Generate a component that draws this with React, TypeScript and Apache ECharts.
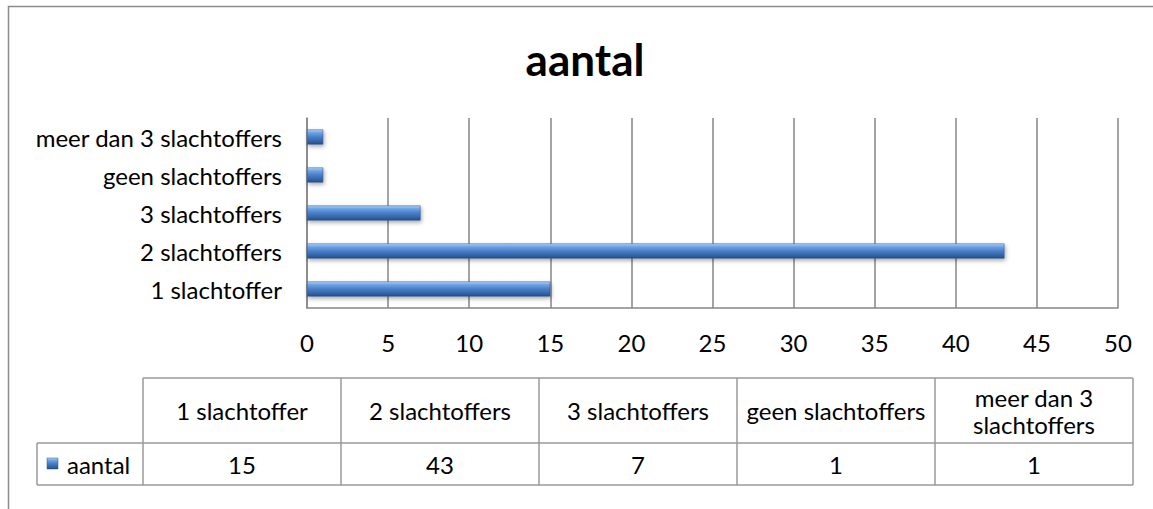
import React, { useEffect, useRef } from "react";
import * as echarts from "echarts";

const categories = ["1 slachtoffer", "2 slachtoffers", "3 slachtoffers", "geen slachtoffers", "meer dan 3 slachtoffers"];
const tableHeaders = ["1 slachtoffer", "2 slachtoffers", "3 slachtoffers", "geen slachtoffers", "meer dan 3\nslachtoffers"];
const values = [15, 43, 7, 1, 1];
const seriesName = "aantal";
const chartTitle = "aantal";

const FONT = "Lato, 'Open Sans', sans-serif";
const FS = 24;
const barGradient = () =>
  new echarts.graphic.LinearGradient(0, 0, 0, 1, [
    { offset: 0, color: "#b3d4f7" },
    { offset: 0.2, color: "#6fa3e6" },
    { offset: 0.5, color: "#4a7fc8" },
    { offset: 0.85, color: "#2f5f9f" },
    { offset: 1, color: "#244d85" },
  ]);

export default function App() {
  const ref = useRef<HTMLDivElement>(null);
  useEffect(() => {
    if (!ref.current) return;
    const chart = echarts.init(ref.current, null, { renderer: "svg" });

    const tLeft = 37, labelRight = 143, colW = 198;
    const hTop = 378, hMid = 443, hBot = 485;
    const lineColor = "#9a9a9a";
    const graphics: any[] = [];
    graphics.push({ type: "rect", shape: { x: 8.5, y: 6.5, width: 1160, height: 540 }, style: { fill: "none", stroke: "#8c8c8c", lineWidth: 1.5 }, silent: true });
    const tRight = labelRight + colW * categories.length;
    const ln = (x1: number, y1: number, x2: number, y2: number) =>
      graphics.push({ type: "line", shape: { x1, y1, x2, y2 }, style: { stroke: lineColor, lineWidth: 1.5 }, silent: true });
    ln(labelRight, hTop, tRight, hTop);
    ln(tLeft, hMid, tRight, hMid);
    ln(tLeft, hBot, tRight, hBot);
    ln(tLeft, hMid, tLeft, hBot);
    for (let i = 0; i <= categories.length; i++) ln(labelRight + colW * i, hTop, labelRight + colW * i, hBot);
    tableHeaders.forEach((h, i) => {
      graphics.push({
        type: "text", x: labelRight + colW * i + colW / 2, y: (hTop + hMid) / 2,
        style: { text: h, fill: "#000", font: `${FS}px ${FONT}`, align: "center", verticalAlign: "middle", lineHeight: 27 },
        silent: true,
      });
    });
    values.forEach((v, i) => {
      graphics.push({
        type: "text", x: labelRight + colW * i + colW / 2, y: (hMid + hBot) / 2,
        style: { text: String(v), fill: "#000", font: `${FS}px ${FONT}`, align: "center", verticalAlign: "middle" },
        silent: true,
      });
    });
    graphics.push({ type: "rect", shape: { x: 47, y: 458, width: 11, height: 11 }, style: { fill: barGradient(), stroke: "#2a558f", lineWidth: 0.5 }, silent: true });
    graphics.push({
      type: "text", x: 67, y: (hMid + hBot) / 2,
      style: { text: seriesName, fill: "#000", font: `${FS}px ${FONT}`, align: "left", verticalAlign: "middle" },
      silent: true,
    });

    chart.setOption({
      animation: false,
      title: {
        text: chartTitle, left: 580, top: 32, textAlign: "center",
        textStyle: { fontSize: 44, fontWeight: "bold", fontFamily: FONT, color: "#000" },
      },
      grid: { left: 307, right: 1153 - 1118, top: 118, bottom: 509 - 308, containLabel: false },
      xAxis: {
        type: "value", min: 0, max: 50, interval: 5,
        axisLine: { show: true, lineStyle: { color: "#868686", width: 1.5 } },
        axisTick: { show: false },
        splitLine: { show: true, lineStyle: { color: "#868686", width: 1.5 } },
        axisLabel: { color: "#000", fontSize: FS, fontFamily: FONT, margin: 22 },
      },
      yAxis: {
        type: "category", data: categories,
        axisLine: { show: true, lineStyle: { color: "#868686", width: 1.5 } },
        axisTick: { show: false },
        axisLabel: { color: "#000", fontSize: FS, fontFamily: FONT, margin: 25 },
      },
      series: [{
        name: seriesName, type: "bar", data: values, barWidth: 15,
        itemStyle: {
          color: barGradient(),
          borderColor: "#2a558f", borderWidth: 0.5,
          shadowColor: "rgba(0,0,0,0.35)", shadowBlur: 4, shadowOffsetX: 1, shadowOffsetY: 2,
        },
      }],
      graphic: graphics,
    });
    return () => chart.dispose();
  }, []);
  return <div ref={ref} style={{ position: "absolute", left: 0, top: 0, width: 1153, height: 509 }} />;
}
